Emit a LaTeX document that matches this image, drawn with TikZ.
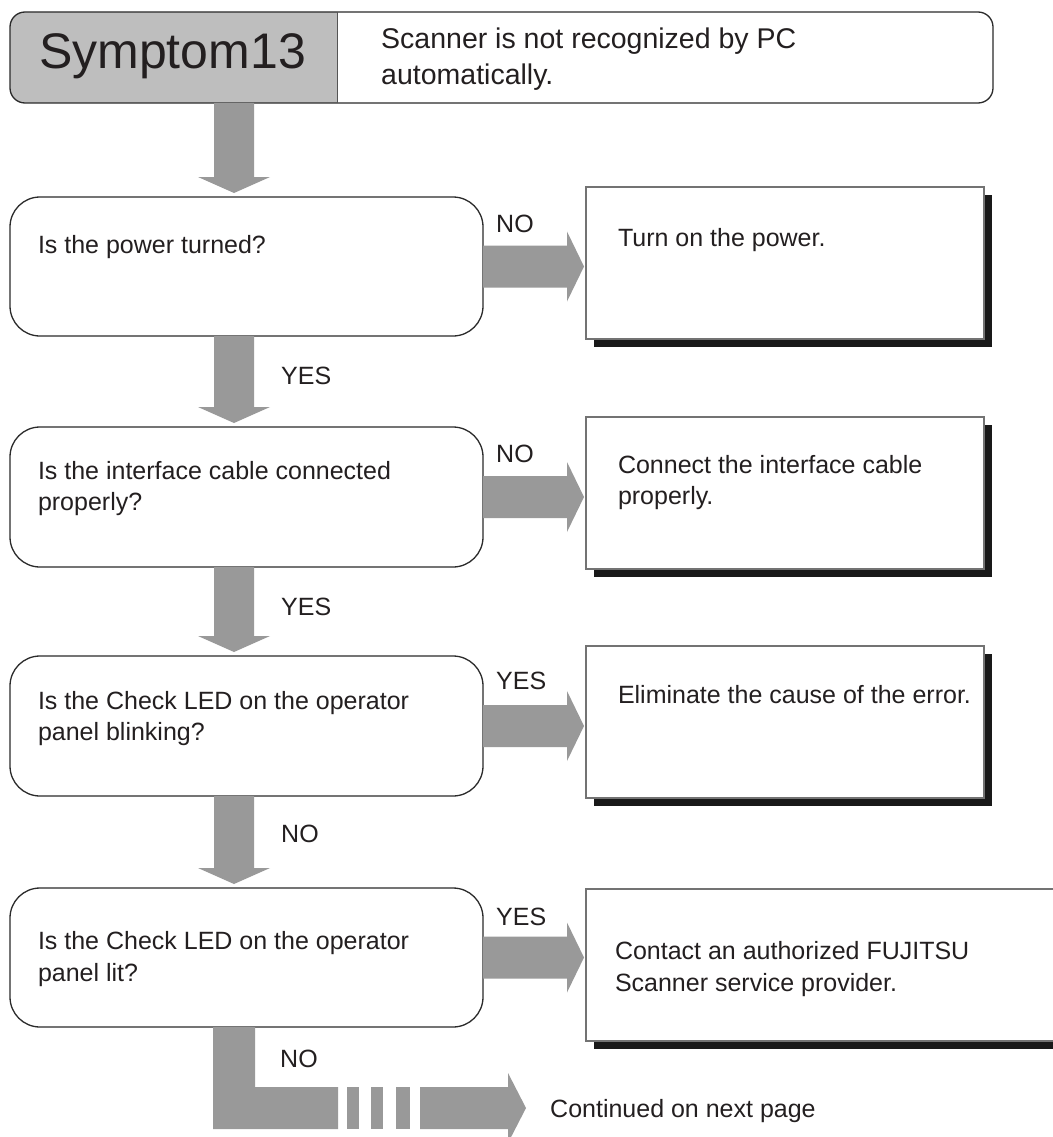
\documentclass[tikz,border=0pt]{standalone}
\usepackage{fontspec}
\setmainfont{Liberation Sans}
\usetikzlibrary{calc,shadows}
\definecolor{arrgray}{HTML}{999999}
\definecolor{hdrgray}{HTML}{BEBEBE}
\definecolor{edgec}{HTML}{2B2B2B}
\definecolor{txt}{HTML}{231F20}
\newcommand\fatdown[2]{%
  \coordinate (fdx) at ($(#2.north)+(-12.5,0)$);
  \coordinate (fdA) at (fdx |- #1.south);
  \fill[fat] ($(fdA)+(-20,0)$) -- ($(fdA)+(20,0)$) -- ($(fdx)+(20,-20)$) -- ($(fdx)+(36,-20)$)
    -- ($(fdx)+(0,-4)$) -- ($(fdx)+(-36,-20)$) -- ($(fdx)+(-20,-20)$) -- cycle;}
\newcommand\fatright[2]{%
  \coordinate (frT) at ($(#2.west |- #1.east)+(-2,0)$);
  \fill[fat] ($(#1.east)+(0,-21)$) -- ($(frT)+(-17,-21)$) -- ($(frT)+(-17,-35)$) -- (frT)
    -- ($(frT)+(-17,35)$) -- ($(frT)+(-17,21)$) -- ($(#1.east)+(0,21)$) -- cycle;}
\begin{document}
\begin{tikzpicture}[x=1pt,y=-1pt,
  qbox/.style={draw=edgec, line width=1.3pt, rounded corners=30pt, minimum width=473pt,
    minimum height=139pt, inner sep=0pt, outer sep=0pt, anchor=north west},
  rbox/.style={draw=black!55, line width=1.2pt, fill=white, minimum width=398pt,
    minimum height=152pt, inner sep=0pt, outer sep=0pt, anchor=north west,
    drop shadow={shadow xshift=8pt, shadow yshift=-8pt, fill=black!90, opacity=1}},
  body/.style={font=\fontsize{25}{31.5}\selectfont, text=txt, inner sep=0pt, outer sep=0pt,
    anchor=base west, align=left},
  lbl/.style={font=\fontsize{25}{30}\selectfont, text=txt, inner sep=0pt, anchor=base west},
  fat/.style={fill=arrgray, draw=none},
]
\fill[white] (0,0) rectangle (1052,1137);
\useasboundingbox (0,0) rectangle (1052,1137);

% header
\node[minimum width=983pt, minimum height=91pt, anchor=north west, inner sep=0pt, outer sep=0pt] (hdr) at (10,12) {};
\begin{scope}
  \clip (0,0) rectangle (337,120);
  \fill[hdrgray, rounded corners=15pt] (hdr.north west) rectangle (hdr.south east);
\end{scope}
\draw[edgec, line width=1.3pt, rounded corners=15pt] (hdr.north west) rectangle (hdr.south east);
\coordinate (divT) at (337,12);
\coordinate (divB) at (337,103);
\draw[edgec!80, line width=1pt] (divT) -- (divB);
\node[font=\fontsize{50}{52}\selectfont, text=txt, inner sep=0pt, anchor=base] (sym) at (172.5,69) {Symptom13};
\node[font=\fontsize{28.5}{36}\selectfont, text=txt, inner sep=0pt, anchor=base west, align=left] (hdrtxt) at (381,85) {Scanner is not recognized by PC\\automatically.};

% question boxes
\node[qbox] (q1) at (10,197) {};
\node[qbox, minimum height=140pt] (q2) at (10,427) {};
\node[qbox, minimum height=140pt] (q3) at (10,656) {};
\node[qbox] (q4) at (10,888) {};

\node[body] (t1) at ($(q1.north west)+(28,56)$) {Is the power turned?};
\node[body] (t2) at ($(q2.north west)+(28,83.5)$) {Is the interface cable connected\\properly?};
\node[body] (t3) at ($(q3.north west)+(28,84.5)$) {Is the Check LED on the operator\\panel blinking?};
\node[body] (t4) at ($(q4.north west)+(28,93)$) {Is the Check LED on the operator\\panel lit?};

% result boxes
\node[rbox] (r1) at (586,187) {};
\node[rbox] (r2) at (586,417) {};
\node[rbox] (r3) at (586,646) {};
\node[rbox, minimum width=500pt] (r4) at (586,889) {};

\node[body] (s1) at ($(r1.north west)+(32,59)$) {Turn on the power.};
\node[body] (s2) at ($(r2.north west)+(32,87.5)$) {Connect the interface cable\\properly.};
\node[body] (s3) at ($(r3.north west)+(32,57)$) {Eliminate the cause of the error.};
\node[body] (s4) at ($(r4.north west)+(29,102)$) {Contact an authorized FUJITSU\\Scanner service provider.};

% down arrows
\fatdown{hdr}{q1}
\fatdown{q1}{q2}
\fatdown{q2}{q3}
\fatdown{q3}{q4}

% right arrows
\fatright{q1}{r1}
\fatright{q2}{r2}
\fatright{q3}{r3}
\fatright{q4}{r4}

% labels
\node[lbl] (l1) at ($(q1.north east)+(13,35)$) {NO};
\node[lbl] (l2) at ($(q2.north east)+(13,35)$) {NO};
\node[lbl] (l3) at ($(q3.north east)+(13,33)$) {YES};
\node[lbl] (l4) at ($(q4.north east)+(13,37)$) {YES};
\node[lbl] (d1) at ($(q1.south)+(34.5,48)$) {YES};
\node[lbl] (d2) at ($(q2.south)+(34.5,48)$) {YES};
\node[lbl] (d3) at ($(q3.south)+(34.5,46)$) {NO};
\node[lbl] (d4) at ($(q4.south)+(33.5,40)$) {NO};

% continuation arrow
\node[font=\fontsize{25}{30}\selectfont, text=txt, inner sep=0pt, anchor=base west] (cont) at (550,1117) {Continued on next page};
\coordinate (cb) at ($(q4.south)+(-12.5,0)$);
\fill[fat] ($(cb)+(-21,0)$) -- ($(cb)+(21,0)$) -- ($(cb)+(21,60)$) -- ($(cb)+(104,60)$)
  -- ($(cb)+(104,102)$) -- ($(cb)+(-21,102)$) -- cycle;
\fill[fat] ($(cb)+(113,60)$) rectangle ($(cb)+(125,102)$);
\fill[fat] ($(cb)+(137,60)$) rectangle ($(cb)+(149,102)$);
\fill[fat] ($(cb)+(162,60)$) rectangle ($(cb)+(176,102)$);
\coordinate (ctip) at ($(cont.west |- cb)+(-24,81)$);
\fill[fat] ($(cb)+(186,60)$) -- ($(ctip)+(-18,-21)$) -- ($(ctip)+(-18,-35)$) -- (ctip)
  -- ($(ctip)+(-18,35)$) -- ($(ctip)+(-18,21)$) -- ($(cb)+(186,102)$) -- cycle;
\end{tikzpicture}
\end{document}
